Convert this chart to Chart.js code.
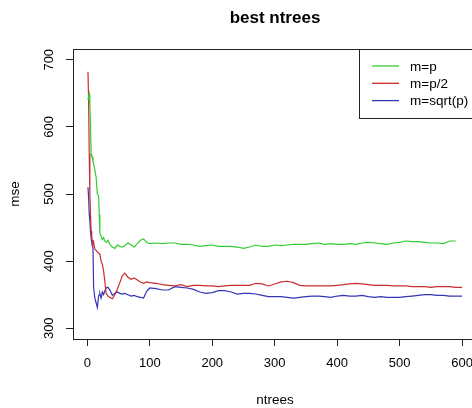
<!DOCTYPE html>
<html>
<head>
<meta charset="utf-8">
<script src="https://cdn.jsdelivr.net/npm/chart.js@4/dist/chart.umd.min.js"></script>
<style>
  html, body { margin: 0; padding: 0; background: #fff; overflow: hidden; }
  #wrap { width: 472px; height: 408px; overflow: hidden; }
</style>
</head>
<body>
<div id="wrap"><canvas id="mseChart" width="490" height="408"></canvas></div>
<script>
const ntrees = [1, 2, 3, 4, 5, 6, 7, 8, 9, 10, 12, 14, 16, 18, 19, 20, 22, 24, 26, 28, 30, 33, 36, 40, 44, 48,
    52, 56, 60, 65, 70, 75, 80, 85, 90, 95, 100, 110, 120, 130, 140, 150, 160, 170, 180, 190, 200,
    210, 220, 230, 240, 250, 260, 270, 280, 290, 300, 310, 320, 330, 340, 350, 360, 370, 380, 390, 400,
    410, 420, 430, 440, 450, 460, 470, 480, 490, 500, 510, 520, 530, 540, 550, 560, 570, 580, 590, 600];

const mseP = [640, 645, 649, 630, 606, 560, 555, 555, 548, 545, 536, 525, 500, 497, 470, 442, 437, 432, 435, 430, 428, 431, 425, 421, 419,
    424, 422, 421, 423, 427, 424, 421, 426, 431, 433, 428, 426, 427, 426, 427, 427, 425, 425, 424, 422, 423,
    424, 422, 422, 422, 421, 419, 421, 424, 422, 422, 424, 423, 424, 425, 425, 425, 426, 427, 425, 426,
    425, 425, 426, 425, 427, 428, 427, 426, 425, 427, 428, 430, 429, 429, 428, 427, 427, 426, 430, 430];

const mseHalf = [682, 638, 560, 500, 470, 445, 432, 431, 425, 428, 418, 416, 414, 412, 411, 410, 400, 395, 385, 370, 352, 348, 346, 344, 350, 358,
    368, 378, 382, 376, 373, 375, 372, 369, 367, 369, 368, 367, 365, 364, 363, 365, 362, 364, 364, 363, 363,
    362, 363, 364, 364, 364, 364, 367, 366, 363, 366, 369, 370, 368, 364, 363, 363, 363, 363, 363, 364,
    365, 366, 367, 366, 365, 364, 364, 364, 363, 363, 363, 362, 362, 362, 361, 362, 362, 362, 361, 361];

const mseSqrt = [510, 495, 470, 460, 445, 435, 428, 422, 421, 361, 345, 338, 331, 348, 350, 352, 345, 354, 350, 356, 360, 361, 357, 349, 352, 354,
    352, 351, 352, 350, 348, 349, 347, 346, 345, 355, 360, 359, 357, 357, 362, 361, 360, 358, 354, 352, 353,
    356, 356, 354, 351, 352, 352, 351, 349, 347, 347, 347, 346, 345, 346, 347, 348, 348, 347, 346, 348,
    349, 348, 348, 349, 347, 346, 347, 346, 346, 346, 347, 348, 349, 350, 350, 349, 349, 348, 348, 348];

const xTicks = [0, 100, 200, 300, 400, 500, 600];
const yTicks = [300, 400, 500, 600, 700];

const FONT = '"Liberation Sans", Arial, sans-serif';
const INK = '#222';

const pts = vals => vals.map((v, i) => ({ x: ntrees[i], y: v }));

// R-style decorations: box, title, axis titles, rotated y labels, legend
const rDecor = {
    id: 'rDecor',
    afterDraw(chart) {
        const ctx = chart.ctx;
        const a = chart.chartArea;
        const ys = chart.scales.y;
        ctx.save();
        ctx.strokeStyle = INK;
        ctx.lineWidth = 1;
        ctx.strokeRect(Math.round(a.left) + 0.5, Math.round(a.top) + 0.5,
            Math.round(a.right - a.left), Math.round(a.bottom - a.top));

        ctx.fillStyle = '#000';
        ctx.font = 'bold 17px ' + FONT;
        ctx.textAlign = 'center';
        ctx.textBaseline = 'alphabetic';
        ctx.fillText('best ntrees', (a.left + a.right) / 2, 23);

        ctx.font = '13.5px ' + FONT;
        ctx.fillText('ntrees', (a.left + a.right) / 2, 404);

        ctx.font = '13px ' + FONT;
        yTicks.forEach(v => {
            ctx.save();
            ctx.translate(53, ys.getPixelForValue(v));
            ctx.rotate(-Math.PI / 2);
            ctx.fillText(String(v), 0, 0);
            ctx.restore();
        });
        ctx.save();
        ctx.font = '13.5px ' + FONT;
        ctx.translate(19, (a.top + a.bottom) / 2);
        ctx.rotate(-Math.PI / 2);
        ctx.fillText('mse', 0, 0);
        ctx.restore();

        // legend in the top right corner
        const lx = 359, ly = Math.round(a.top);
        ctx.fillStyle = '#fff';
        ctx.fillRect(lx + 0.5, ly + 0.5, a.right - lx, 69);
        ctx.strokeRect(lx + 0.5, ly + 0.5, a.right - lx, 69);
        ctx.font = '13.5px ' + FONT;
        ctx.textAlign = 'left';
        ctx.textBaseline = 'middle';
        chart.data.datasets.forEach((ds, i) => {
            const y = ly + 17 + i * 17.3;
            ctx.strokeStyle = ds.borderColor;
            ctx.lineWidth = 1.3;
            ctx.beginPath();
            ctx.moveTo(372, y);
            ctx.lineTo(399, y);
            ctx.stroke();
            ctx.fillStyle = '#000';
            ctx.fillText(ds.label, 410, y + 1);
        });
        ctx.restore();
    }
};

const mseChart = new Chart(document.getElementById('mseChart'), {
    type: 'line',
    data: {
        datasets: [
            { label: 'm=p', data: pts(mseP), borderColor: '#33cc33' },
            { label: 'm=p/2', data: pts(mseHalf), borderColor: '#cc2c2c' },
            { label: 'm=sqrt(p)', data: pts(mseSqrt), borderColor: '#3434b4' }
        ]
    },
    options: {
        responsive: false,
        animation: false,
        layout: { padding: { top: 49, right: 13, left: 0, bottom: 0 } },
        elements: {
            line: { borderWidth: 1.2, tension: 0 },
            point: { radius: 0 }
        },
        plugins: {
            legend: { display: false },
            tooltip: { enabled: false },
            title: { display: false }
        },
        scales: {
            x: {
                type: 'linear',
                min: -23,
                max: 624,
                afterBuildTicks: s => { s.ticks = xTicks.map(v => ({ value: v })); },
                afterFit: s => { s.height = 69; },
                border: { display: false },
                grid: { drawOnChartArea: false, drawTicks: true, tickLength: 7, color: INK },
                ticks: { color: '#000', padding: 10, maxRotation: 0, font: { family: FONT, size: 13 } }
            },
            y: {
                type: 'linear',
                min: 284,
                max: 716,
                afterBuildTicks: s => { s.ticks = yTicks.map(v => ({ value: v })); },
                afterFit: s => { s.width = 73; },
                border: { display: false },
                grid: { drawOnChartArea: false, drawTicks: true, tickLength: 7, color: INK },
                ticks: { display: false }
            }
        }
    },
    plugins: [rDecor]
});
</script>
</body>
</html>
